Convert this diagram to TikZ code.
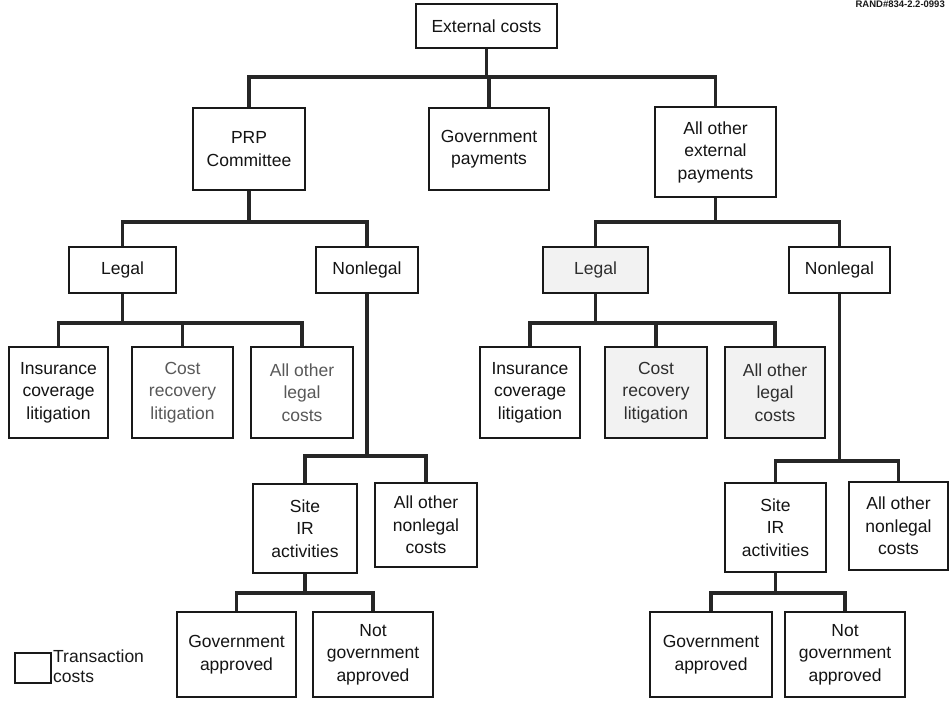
\documentclass[tikz,border=0pt]{standalone}
\usepackage{fontspec}
\setmainfont{Liberation Sans}
\begin{document}
\begin{tikzpicture}[x=1pt,y=-1pt,
  box/.style={draw=black!90, line width=1.8pt, fill=white, inner sep=0pt, align=center,
    font=\fontsize{17.5}{22.5}\selectfont, text=black!92},
  faint/.style={text=black!65},
  shaded/.style={fill=black!5, text=black!82},
  conn/.style={draw=black!85, line width=3.2pt, line join=miter}]
\useasboundingbox (0,0) rectangle (949,701);
\fill[white] (0,0) rectangle (949,701);

% level 1
\node[box, minimum width=141pt, minimum height=44pt] (ext) at (486.5,26) {External costs};
% level 2
\node[box, minimum width=112pt, minimum height=82pt] (prp) at (249,149) {PRP\\Committee};
\node[box, minimum width=120pt, minimum height=82pt] (gov) at (489,149) {Government\\payments};
\node[box, minimum width=121pt, minimum height=90pt] (aoe) at (715.5,152) {All other\\external\\payments};
% level 3
\node[box, minimum width=107pt, minimum height=46pt] (legL) at (122.5,270) {Legal};
\node[box, minimum width=102pt, minimum height=46pt] (nonL) at (367,270) {Nonlegal};
\node[box, shaded, minimum width=105pt, minimum height=46pt] (legR) at (595.5,270) {Legal};
\node[box, minimum width=101pt, minimum height=46pt] (nonR) at (839.5,270) {Nonlegal};
% level 4 (legal children)
\node[box, minimum width=99pt, minimum height=91pt] (insL) at (58.5,392.5) {Insurance\\coverage\\litigation};
\node[box, faint, minimum width=101pt, minimum height=91pt] (crL) at (182.5,392.5) {Cost\\recovery\\litigation};
\node[box, faint, minimum width=102pt, minimum height=91pt] (aolL) at (302,392.5) {All other\\legal\\costs};
\node[box, minimum width=100pt, minimum height=91pt] (insR) at (530,392.5) {Insurance\\coverage\\litigation};
\node[box, shaded, minimum width=102pt, minimum height=91pt] (crR) at (656,392.5) {Cost\\recovery\\litigation};
\node[box, shaded, minimum width=100pt, minimum height=91pt] (aolR) at (775,392.5) {All other\\legal\\costs};
% level 5 (nonlegal children)
\node[box, minimum width=104pt, minimum height=89pt] (siteL) at (305,528.5) {Site\\IR\\activities};
\node[box, minimum width=102pt, minimum height=84pt] (aonL) at (426,525) {All other\\nonlegal\\costs};
\node[box, minimum width=101pt, minimum height=89pt] (siteR) at (775.5,527.5) {Site\\IR\\activities};
\node[box, minimum width=99pt, minimum height=88pt] (aonR) at (898.5,526) {All other\\nonlegal\\costs};
% level 6
\node[box, minimum width=119pt, minimum height=85pt] (gaL) at (236.5,654.5) {Government\\approved};
\node[box, minimum width=120pt, minimum height=85pt] (ngaL) at (373,654.5) {Not\\government\\approved};
\node[box, minimum width=122pt, minimum height=85pt] (gaR) at (711,654.5) {Government\\approved};
\node[box, minimum width=120pt, minimum height=85pt] (ngaR) at (845,654.5) {Not\\government\\approved};

% bus levels
\coordinate (b1) at (0,77);
\coordinate (b2) at (0,222);
\coordinate (b3) at (0,323);
\coordinate (b4L) at (0,456);
\coordinate (b4R) at (0,461);
\coordinate (b5) at (0,593);

% connectors
\draw[conn] (ext.south) -- (ext.south |- b1);
\draw[conn] (prp.north) -- (prp.north |- b1) -- (aoe.north |- b1) -- (aoe.north);
\draw[conn] (gov.north) -- (gov.north |- b1);

\draw[conn] (prp.south) -- (prp.south |- b2);
\draw[conn] (legL.north) -- (legL.north |- b2) -- (nonL.north |- b2) -- (nonL.north);
\draw[conn] (aoe.south) -- (aoe.south |- b2);
\draw[conn] (legR.north) -- (legR.north |- b2) -- (nonR.north |- b2) -- (nonR.north);

\draw[conn] (legL.south) -- (legL.south |- b3);
\draw[conn] (insL.north) -- (insL.north |- b3) -- (aolL.north |- b3) -- (aolL.north);
\draw[conn] (crL.north) -- (crL.north |- b3);
\draw[conn] (legR.south) -- (legR.south |- b3);
\draw[conn] (insR.north) -- (insR.north |- b3) -- (aolR.north |- b3) -- (aolR.north);
\draw[conn] (crR.north) -- (crR.north |- b3);

\draw[conn] (nonL.south) -- (nonL.south |- b4L);
\draw[conn] (siteL.north) -- (siteL.north |- b4L) -- (aonL.north |- b4L) -- (aonL.north);
\draw[conn] (nonR.south) -- (nonR.south |- b4R);
\draw[conn] (siteR.north) -- (siteR.north |- b4R) -- (aonR.north |- b4R) -- (aonR.north);

\draw[conn] (siteL.south) -- (siteL.south |- b5);
\draw[conn] (gaL.north) -- (gaL.north |- b5) -- (ngaL.north |- b5) -- (ngaL.north);
\draw[conn] (siteR.south) -- (siteR.south |- b5);
\draw[conn] (gaR.north) -- (gaR.north |- b5) -- (ngaR.north |- b5) -- (ngaR.north);

% legend
\node[draw=black!90, line width=1.4pt, minimum width=36pt, minimum height=30pt, inner sep=0pt] (legbox) at (33,668) {};
\node[anchor=north west, align=left, inner sep=0pt, text=black!90,
  font=\fontsize{17.5}{20}\selectfont] (legtext) at (53,650) {Transaction\\costs};

% tag
\node[anchor=north east, inner sep=0pt, text=black!90,
  font=\bfseries\fontsize{9.5}{10}\selectfont] (tag) at (945,1) {RAND\#834-2.2-0993};
\end{tikzpicture}
\end{document}
